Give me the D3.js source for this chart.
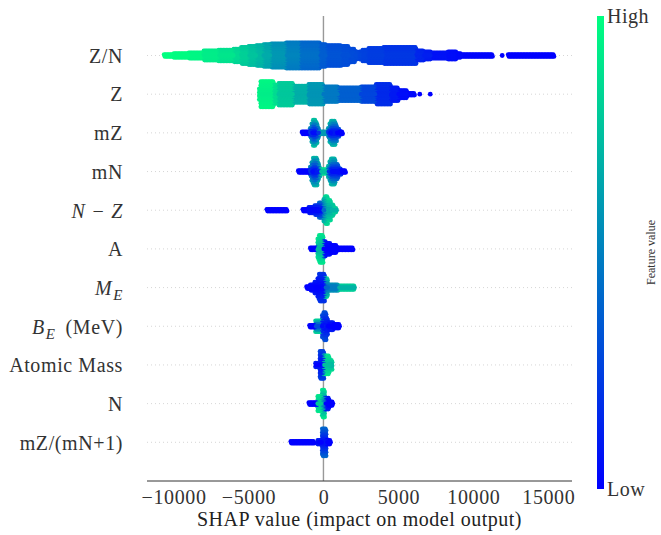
<!DOCTYPE html>
<html>
<head>
<meta charset="utf-8">
<script src="https://cdn.jsdelivr.net/npm/d3@7"></script>
<style>
  html, body { margin: 0; padding: 0; background: #fff; }
  svg text { font-family: "Liberation Serif", "DejaVu Serif", serif; }
</style>
</head>
<body>
<svg id="chart" width="661" height="535"></svg>
<script>
// Features, ordered by mean |SHAP| (top to bottom)
const features = ["Z/N", "Z", "mZ", "mN", "N-Z", "A", "M_E", "B_E", "Atomic Mass", "N", "mZ/(mN+1)"];

// Tick values of the SHAP axis
const xTicks = [-10000, -5000, 0, 5000, 10000, 15000];

// Per-feature SHAP histograms, bins of 100 SHAP units.
// Each entry: [from, to, samples per bin, feature value (centre of stack), feature value (edges of stack)]
// feature values are normalised 0 (low) .. 1 (high)
const shapZN = [
  [-10650, -10000, 2, 1.00, 1.00],
  [-10000, -9000, 3, 0.99, 0.99],
  [-9000, -8000, 4, 0.97, 0.96],
  [-8000, -7000, 6, 0.93, 0.92],
  [-7000, -6000, 7, 0.90, 0.88],
  [-6000, -5500, 8, 0.86, 0.83],
  [-5500, -5000, 10, 0.82, 0.79],
  [-5000, -4500, 11, 0.77, 0.74],
  [-4500, -4000, 12, 0.73, 0.70],
  [-4000, -3500, 13, 0.67, 0.64],
  [-3500, -2500, 14, 0.60, 0.56],
  [-2500, -1500, 15, 0.52, 0.48],
  [-1500, -200, 15, 0.44, 0.40],
  [-200, 200, 13, 0.37, 0.35],
  [200, 1200, 12, 0.33, 0.31],
  [1200, 1700, 11, 0.31, 0.30],
  [1700, 2100, 8, 0.30, 0.29],
  [2100, 2300, 5, 0.29, 0.28],
  [2300, 2400, 2, 0.28, 0.28],
  [2400, 2600, 5, 0.27, 0.26],
  [2600, 3000, 7, 0.26, 0.25],
  [3000, 4000, 9, 0.24, 0.23],
  [4000, 6200, 10, 0.22, 0.20],
  [6200, 6700, 6, 0.15, 0.14],
  [6700, 7200, 5, 0.12, 0.11],
  [7200, 8300, 4, 0.07, 0.07],
  [8300, 8900, 5, 0.05, 0.05],
  [8900, 9200, 3, 0.04, 0.04],
  [9200, 11300, 2, 0.02, 0.02],
  [11900, 12000, 1, 0.00, 0.00],
  [12300, 15400, 2, 0.00, 0.00]
];
const shapZ = [
  [-4300, -4200, 7, 0.95, 0.95],
  [-4200, -3300, 15, 0.93, 0.97],
  [-3300, -3000, 11, 0.86, 0.88],
  [-3000, -2000, 13, 0.78, 0.80],
  [-2000, -1000, 10, 0.68, 0.70],
  [-1000, 0, 12, 0.58, 0.60],
  [0, 1000, 9, 0.47, 0.48],
  [1000, 2500, 8, 0.37, 0.38],
  [2500, 3500, 9, 0.27, 0.28],
  [3500, 4500, 12, 0.16, 0.18],
  [4500, 5000, 8, 0.10, 0.10],
  [5000, 5600, 5, 0.05, 0.05],
  [5600, 6100, 2, 0.03, 0.03],
  [6400, 6500, 1, 0.00, 0.00],
  [7100, 7200, 1, 0.00, 0.00]
];
const shapMZ = [
  [-1450, -900, 2, 0.00, 0.00],
  [-900, -800, 6, 0.10, 0.50],
  [-800, -700, 11, 0.05, 0.65],
  [-700, -500, 15, 0.05, 0.75],
  [-500, -400, 12, 0.10, 0.70],
  [-400, -300, 7, 0.20, 0.60],
  [-300, 300, 2, 0.15, 0.60],
  [300, 400, 6, 0.10, 0.60],
  [400, 500, 11, 0.05, 0.70],
  [500, 800, 14, 0.05, 0.70],
  [800, 900, 10, 0.05, 0.50],
  [900, 1100, 5, 0.00, 0.30],
  [1100, 1300, 2, 0.00, 0.00]
];
const shapMN = [
  [-1700, -900, 2, 0.00, 0.00],
  [-900, -800, 6, 0.10, 0.50],
  [-800, -700, 11, 0.05, 0.60],
  [-700, -400, 16, 0.05, 0.70],
  [-400, -300, 11, 0.10, 0.70],
  [-300, -200, 6, 0.30, 0.70],
  [-200, 300, 3, 0.75, 0.85],
  [300, 400, 7, 0.20, 0.70],
  [400, 500, 12, 0.05, 0.70],
  [500, 800, 15, 0.05, 0.70],
  [800, 1000, 9, 0.05, 0.40],
  [1000, 1200, 4, 0.00, 0.20],
  [1200, 1500, 2, 0.00, 0.00]
];
const shapNZ = [
  [-3800, -2400, 2, 0.00, 0.00],
  [-1400, -1000, 2, 0.00, 0.00],
  [-1000, -600, 4, 0.00, 0.10],
  [-600, -300, 6, 0.00, 0.20],
  [-300, 0, 9, 0.05, 0.40],
  [0, 100, 13, 0.40, 0.70],
  [100, 300, 16, 0.60, 0.85],
  [300, 500, 12, 0.65, 0.85],
  [500, 700, 7, 0.70, 0.80],
  [700, 900, 3, 0.70, 0.80]
];
const shapA = [
  [-900, -400, 2, 0.00, 0.00],
  [-400, -300, 12, 0.70, 0.90],
  [-300, 0, 16, 0.70, 0.90],
  [0, 200, 9, 0.00, 0.10],
  [200, 500, 7, 0.00, 0.05],
  [500, 900, 5, 0.00, 0.00],
  [900, 2000, 2, 0.00, 0.00]
];
const shapME = [
  [-1150, -900, 2, 0.00, 0.00],
  [-900, -600, 4, 0.00, 0.05],
  [-600, -400, 7, 0.00, 0.10],
  [-400, -300, 11, 0.00, 0.10],
  [-300, 100, 16, 0.02, 0.20],
  [100, 300, 11, 0.40, 0.80],
  [300, 1000, 4, 0.45, 0.55],
  [1000, 2100, 3, 0.70, 0.80]
];
const shapBE = [
  [-950, -550, 2, 0.00, 0.00],
  [-550, -100, 7, 0.30, 0.80],
  [-100, 0, 13, 0.05, 0.30],
  [0, 200, 16, 0.05, 0.30],
  [200, 300, 10, 0.05, 0.20],
  [300, 700, 5, 0.00, 0.10],
  [700, 1100, 3, 0.00, 0.00]
];
const shapAM = [
  [-550, -250, 3, 0.00, 0.10],
  [-250, 0, 16, 0.05, 0.25],
  [0, 400, 11, 0.75, 0.90],
  [400, 550, 6, 0.70, 0.85]
];
const shapN = [
  [-1000, -400, 2, 0.00, 0.00],
  [-400, -100, 9, 0.80, 0.90],
  [-100, 100, 16, 0.50, 0.90],
  [100, 350, 7, 0.00, 0.10],
  [350, 650, 3, 0.00, 0.00]
];
const shapRatio = [
  [-2200, -600, 2, 0.00, 0.00],
  [-400, -100, 3, 0.00, 0.10],
  [-100, 200, 16, 0.05, 0.40],
  [200, 500, 3, 0.00, 0.00]
];

const shapByFeature = {
  "Z/N": shapZN, "Z": shapZ, "mZ": shapMZ, "mN": shapMN, "N-Z": shapNZ,
  "A": shapA, "M_E": shapME, "B_E": shapBE, "Atomic Mass": shapAM,
  "N": shapN, "mZ/(mN+1)": shapRatio
};

// Label markup: [text, style, dx] with style "" roman, "i" italic, "sub" italic subscript
const labelParts = {
  "N-Z": [["N", "i", 0], ["\u2212", "", 7], ["Z", "i", 7]],
  "M_E": [["M", "i", 0], ["E", "sub", 1]],
  "B_E": [["B", "i", 0], ["E", "sub", 1], ["(MeV)", "", 10]]
};

const binWidth = 100;

// ---- drawing ----
const svg = d3.select("#chart");
const plotLeft = 147, plotRight = 572, plotTop = 16, axisY = 481;

const x = d3.scaleLinear().domain([-11770, 16580]).range([plotLeft, plotRight]);
const y = d3.scalePoint().domain(features).range([55.5, 442.3]);

// matplotlib "winter" colormap: blue -> spring green
const winter = t => d3.rgb(0, Math.round(255 * t), Math.round(255 * (1 - 0.5 * t))).toString();

// dotted row guides
svg.append("g").selectAll("line").data(features).join("line")
  .attr("x1", plotLeft).attr("x2", plotRight)
  .attr("y1", d => y(d)).attr("y2", d => y(d))
  .attr("stroke", "#cccccc").attr("stroke-width", 0.8)
  .attr("stroke-dasharray", "1,3");

// zero line
svg.append("line")
  .attr("x1", x(0)).attr("x2", x(0))
  .attr("y1", plotTop).attr("y2", axisY)
  .attr("stroke", "#999999").attr("stroke-width", 1.4);

// beeswarm dots: each bin becomes a vertical stack centred on the row,
// alternate layers staggered half a bin so the stack packs like a swarm
const layerStep = 1.8, dotR = 2.4;
const dots = [];
features.forEach(f => {
  const cy = y(f);
  shapByFeature[f].forEach(([from, to, k, core, edge]) => {
    for (let v = from; v < to; v += binWidth) {
      const half = (k - 1) / 2;
      for (let j = 0; j < k; j++) {
        const off = j - half;
        const frac = half > 0 ? Math.abs(off) / half : 0;
        dots.push({
          shap: v + binWidth * (j % 2 ? 0.75 : 0.25),
          row: cy,
          off: off,
          val: core + (edge - core) * frac
        });
      }
    }
  });
});
// outer layers first so that stack centres stay on top
dots.sort((a, b) => Math.abs(b.off) - Math.abs(a.off));
svg.append("g").selectAll("circle").data(dots).join("circle")
  .attr("cx", d => x(d.shap))
  .attr("cy", d => d.row + d.off * layerStep)
  .attr("r", dotR)
  .attr("fill", d => winter(d.val));

// x axis
const xAxis = d3.axisBottom(x).tickValues(xTicks).tickSize(0).tickPadding(9)
  .tickFormat(d => d < 0 ? "\u2212" + Math.abs(d) : String(d));
const gx = svg.append("g").attr("transform", `translate(0,${axisY})`).call(xAxis);
gx.select(".domain").attr("stroke", "#333333").attr("stroke-width", 1)
  .attr("d", `M${plotLeft},0H${plotRight}`);
gx.selectAll(".tick text")
  .attr("fill", "#333333")
  .style("font-size", "20px")
  .style("letter-spacing", "0.6px")
  .attr("dy", "0.71em");

svg.append("text")
  .attr("x", (plotLeft + plotRight) / 2).attr("y", 526)
  .attr("text-anchor", "middle")
  .attr("fill", "#222222")
  .style("font-size", "20px")
  .style("letter-spacing", "0.5px")
  .text("SHAP value (impact on model output)");

// feature labels
const labels = svg.append("g");
features.forEach(f => {
  const t = labels.append("text")
    .attr("x", 123).attr("y", y(f) + 7.3)
    .attr("text-anchor", "end")
    .attr("fill", "#333333")
    .style("font-size", "20px")
    .style("letter-spacing", "0.6px");
  const parts = labelParts[f] || [[f, "", 0]];
  let shifted = false;
  parts.forEach(([txt, st, dx]) => {
    const ts = t.append("tspan").text(txt);
    if (dx) ts.attr("dx", dx);
    if (st === "i" || st === "sub") ts.style("font-style", "italic");
    if (st === "sub") { ts.attr("dy", 5).style("font-size", "15px"); shifted = true; }
    else if (shifted) { ts.attr("dy", -5); shifted = false; }
  });
});

// colour bar
const barX = 597, barW = 7, barTop = 16, barBottom = 489;
const grad = svg.append("defs").append("linearGradient")
  .attr("id", "winterGrad").attr("x1", 0).attr("y1", 1).attr("x2", 0).attr("y2", 0);
d3.range(0, 1.0001, 0.1).forEach(t => {
  grad.append("stop").attr("offset", t).attr("stop-color", winter(t));
});
svg.append("rect")
  .attr("x", barX).attr("y", barTop).attr("width", barW).attr("height", barBottom - barTop)
  .attr("fill", "url(#winterGrad)");

svg.append("text").attr("x", 607).attr("y", barTop + 7)
  .attr("fill", "#333333").style("font-size", "20px").style("letter-spacing", "0.5px")
  .text("High");
svg.append("text").attr("x", 607).attr("y", barBottom + 7)
  .attr("fill", "#333333").style("font-size", "20px").style("letter-spacing", "0.5px")
  .text("Low");
svg.append("text")
  .attr("transform", `translate(655,${(barTop + barBottom) / 2}) rotate(-90)`)
  .attr("text-anchor", "middle")
  .attr("fill", "#333333")
  .style("font-size", "12px")
  .text("Feature value");
</script>
</body>
</html>
